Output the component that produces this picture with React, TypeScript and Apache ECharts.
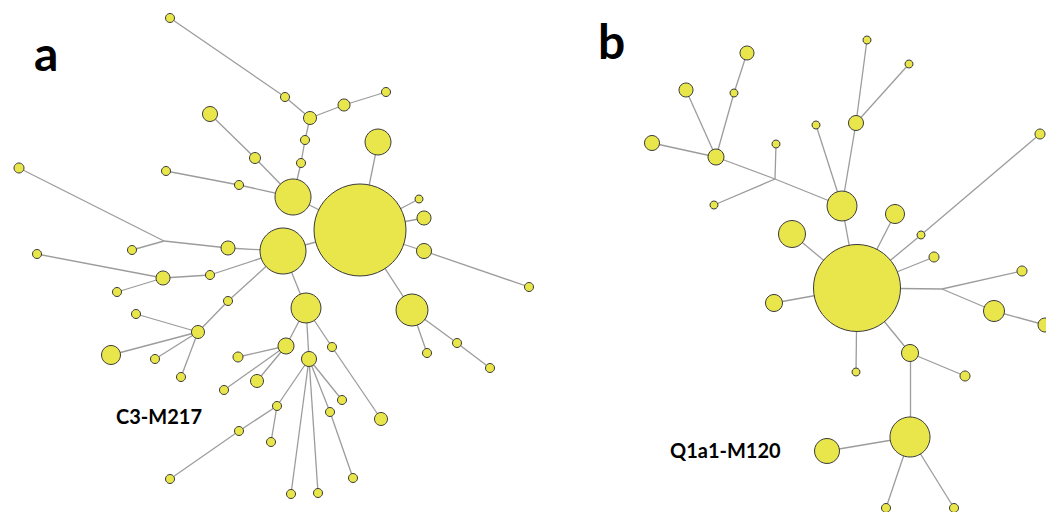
import React, { useEffect, useRef } from "react";
import * as echarts from "echarts";

// Network a (C3-M217): [id, x, y, size]
const nodesA: [string, number, number, number][] = [
  ["a0", 360, 230, 92], ["a1", 293, 197, 36], ["a2", 283, 251, 46], ["a3", 306, 308, 30],
  ["a4", 412, 310, 32], ["a5", 378, 142, 26], ["a6", 419, 199, 8], ["a7", 424, 218, 14],
  ["a8", 424, 251, 15], ["a9", 529, 287, 9], ["a10", 427, 353, 9], ["a11", 457, 343, 9],
  ["a12", 490, 368, 9], ["a13", 301, 163, 9], ["a14", 305, 140, 9], ["a15", 310, 118, 13],
  ["a16", 285, 97, 9], ["a17", 170, 18, 9], ["a18", 344, 105, 12], ["a19", 386, 92, 9],
  ["a20", 255, 158, 11], ["a21", 210, 114, 15], ["a22", 239, 185, 9], ["a23", 166, 171, 9],
  ["a24", 228, 248, 14], ["a25", 164, 241, 0], ["a26", 132, 250, 9], ["a27", 19, 168, 10],
  ["a28", 210, 275, 9], ["a29", 163, 278, 14], ["a30", 117, 292, 9], ["a31", 37, 254, 9],
  ["a32", 228, 301, 9], ["a33", 198, 332, 13], ["a34", 136, 314, 9], ["a35", 111, 355, 19],
  ["a36", 155, 359, 9], ["a37", 181, 377, 9], ["a38", 286, 346, 16], ["a39", 238, 357, 10],
  ["a40", 257, 381, 13], ["a41", 224, 390, 9], ["a42", 309, 359, 15], ["a43", 332, 347, 9],
  ["a44", 381, 419, 13], ["a45", 277, 406, 9], ["a46", 239, 431, 9], ["a47", 170, 479, 9],
  ["a48", 271, 442, 9], ["a49", 291, 494, 9], ["a50", 318, 493, 9], ["a51", 330, 412, 9],
  ["a52", 353, 478, 9], ["a53", 342, 400, 9],
];
const linksA: [string, string][] = [
  ["a0", "a1"], ["a0", "a2"], ["a0", "a5"], ["a0", "a6"], ["a0", "a7"], ["a0", "a8"], ["a0", "a4"],
  ["a2", "a3"], ["a8", "a9"], ["a4", "a10"], ["a4", "a11"], ["a11", "a12"],
  ["a1", "a13"], ["a13", "a14"], ["a14", "a15"], ["a15", "a16"], ["a16", "a17"], ["a15", "a18"], ["a18", "a19"],
  ["a1", "a20"], ["a20", "a21"], ["a1", "a22"], ["a22", "a23"],
  ["a2", "a24"], ["a24", "a25"], ["a25", "a26"], ["a25", "a27"],
  ["a2", "a28"], ["a28", "a29"], ["a29", "a30"], ["a29", "a31"],
  ["a2", "a32"], ["a32", "a33"], ["a33", "a34"], ["a33", "a35"], ["a33", "a36"], ["a33", "a37"],
  ["a3", "a38"], ["a38", "a39"], ["a38", "a40"], ["a38", "a41"],
  ["a3", "a42"], ["a3", "a43"], ["a43", "a44"],
  ["a42", "a45"], ["a45", "a46"], ["a46", "a47"], ["a45", "a48"],
  ["a42", "a49"], ["a42", "a50"], ["a42", "a51"], ["a51", "a52"], ["a42", "a53"],
];

// Network b (Q1a1-M120): [id, x, y, size]
const nodesB: [string, number, number, number][] = [
  ["b0", 857, 288, 87], ["b1", 842, 206, 30], ["b2", 792, 234, 27], ["b3", 774, 303, 17],
  ["b4", 856, 372, 8], ["b5", 910, 353, 17], ["b6", 965, 376, 10], ["b7", 910, 437, 40],
  ["b8", 827, 451, 25], ["b9", 886, 508, 9], ["b10", 954, 508, 9], ["b11", 942, 289, 0],
  ["b12", 1022, 271, 10], ["b13", 994, 311, 21], ["b14", 1045, 325, 14], ["b15", 934, 257, 10],
  ["b16", 921, 235, 8], ["b17", 1040, 134, 10], ["b18", 895, 214, 19], ["b19", 856, 123, 15],
  ["b20", 867, 40, 8], ["b21", 909, 64, 8], ["b22", 816, 125, 8], ["b23", 775, 179, 0],
  ["b24", 776, 144, 8], ["b25", 714, 205, 8], ["b26", 716, 157, 16], ["b27", 652, 143, 15],
  ["b28", 686, 90, 14], ["b29", 734, 93, 8], ["b30", 747, 53, 14],
];
const linksB: [string, string][] = [
  ["b0", "b1"], ["b0", "b2"], ["b0", "b3"], ["b0", "b4"], ["b0", "b5"], ["b5", "b6"], ["b5", "b7"],
  ["b7", "b8"], ["b7", "b9"], ["b7", "b10"], ["b0", "b11"], ["b11", "b12"], ["b11", "b13"], ["b13", "b14"],
  ["b0", "b15"], ["b0", "b16"], ["b16", "b17"], ["b0", "b18"], ["b1", "b19"], ["b19", "b20"], ["b19", "b21"],
  ["b1", "b22"], ["b1", "b23"], ["b23", "b24"], ["b23", "b25"], ["b23", "b26"], ["b26", "b27"],
  ["b26", "b28"], ["b26", "b29"], ["b29", "b30"],
];

const panelLetters = ["a", "b"];
const networkNames = ["C3-M217", "Q1a1-M120"];

export default function App() {
  const ref = useRef<HTMLDivElement>(null);
  useEffect(() => {
    if (!ref.current) return;
    const chart = echarts.init(ref.current, undefined, { renderer: "svg" });
    const allNodes = [...nodesA, ...nodesB];
    const allLinks = [...linksA, ...linksB];
    chart.setOption({
      animation: false,
      backgroundColor: "#ffffff",
      grid: { left: 0, right: 0, top: 0, bottom: 0 },
      xAxis: { type: "value", min: 0, max: 1046, show: false },
      yAxis: { type: "value", min: 0, max: 512, inverse: true, show: false },
      series: [
        {
          type: "graph",
          coordinateSystem: "cartesian2d",
          layout: "none",
          symbol: "circle",
          data: allNodes.map(([id, x, y, s]) => ({
            name: id,
            value: [x, y],
            symbolSize: s,
          })),
          links: allLinks.map(([s, t]) => ({ source: s, target: t })),
          itemStyle: { color: "#E9E64B", borderColor: "#3a3a3a", borderWidth: 1 },
          lineStyle: { color: "#9c9c9c", width: 1.3, opacity: 1, curveness: 0 },
          label: { show: false },
          emphasis: { disabled: true },
        },
      ],
      graphic: [
        { type: "text", left: 34, top: 28, style: { text: panelLetters[0], font: "bold 48px Lato", fill: "#000" } },
        { type: "text", left: 598, top: 16, style: { text: panelLetters[1], font: "bold 48px Lato", fill: "#000" } },
        { type: "text", left: 116, top: 406, style: { text: networkNames[0], font: "bold 20px Lato", fill: "#000" } },
        { type: "text", left: 670, top: 440, style: { text: networkNames[1], font: "bold 20px Lato", fill: "#000" } },
      ],
    });
    return () => chart.dispose();
  }, []);
  return (
    <div
      ref={ref}
      style={{ position: "fixed", left: 0, top: 0, width: 1046, height: 512 }}
    />
  );
}
